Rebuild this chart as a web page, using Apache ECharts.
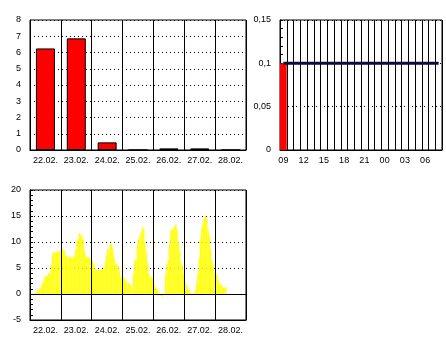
<!DOCTYPE html>
<html>
<head>
<meta charset="utf-8">
<script src="https://cdn.jsdelivr.net/npm/echarts@6/dist/echarts.min.js"></script>
<style>
html,body{margin:0;padding:0;background:#fff;}
#c{width:446px;height:340px;}
</style>
</head>
<body>
<div id="c"></div>
<script>
// ---- data ----
const days = ['22.02.', '23.02.', '24.02.', '25.02.', '26.02.', '27.02.', '28.02.'];
const dailyPrecip = [6.25, 6.87, 0.47, 0, 0.1, 0.1, 0];

const hours = ['09','10','11','12','13','14','15','16','17','18','19','20','21','22','23','00','01','02','03','04','05','06','07','08'];
const hourlyPrecip = [0.1, 0, 0, 0, 0, 0, 0, 0, 0, 0, 0, 0, 0, 0, 0, 0, 0, 0, 0, 0, 0, 0, 0, 0];
const cumulPrecip = [0.1, 0.1, 0.1, 0.1, 0.1, 0.1, 0.1, 0.1, 0.1, 0.1, 0.1, 0.1, 0.1, 0.1, 0.1, 0.1, 0.1, 0.1, 0.1, 0.1, 0.1, 0.1, 0.1, 0.1];

const temp22 = [0, 0, -0.3, -0.2, 0.2, 0.5, 0.7, 1.0, 1.3, 2.0, 2.5, 3.3, 3.5, 3.5, 4.0, 3.9, 5.5, 7.8, 7.9, 8.0, 8.1, 8.2, 8.2, 8.5];
const temp23 = [8.5, 8.5, 8.5, 7.6, 7.3, 7.0, 7.1, 7.3, 6.9, 7.0, 7.4, 8.5, 10.3, 10.5, 11.7, 11.5, 11.1, 10.5, 8.2, 7.2, 7.1, 7.1, 7.0, 6.5];
const temp24 = [6.4, 5.8, 5.0, 4.6, 4.6, 4.6, 4.6, 4.6, 4.6, 5.2, 6.0, 7.5, 8.8, 8.4, 9.7, 9.6, 8.7, 7.0, 5.9, 5.7, 5.5, 4.5, 3.3, 3.2];
const temp25 = [3.2, 3.0, 2.8, 2.2, 2.1, 2.0, 1.8, 0.8, 3.8, 6.5, 6.6, 9.5, 10.5, 11.3, 11.9, 12.9, 12.5, 9.8, 8.0, 6.0, 4.0, 3.2, 3.2, 3.0];
const temp26 = [1.7, 1.3, 1.2, 0.6, 0.1, -0.3, -0.4, -0.5, 0, 3.8, 5.5, 6.5, 9.6, 12.2, 12.4, 12.6, 13.0, 13.4, 12.3, 10.0, 8.2, 6.0, 5.5, 3.8];
const temp27 = [2.2, 1.8, 1.5, 0.8, 0.3, 0, 0, 0, 0.7, 2.0, 4.0, 6.8, 10.5, 12.7, 13.6, 14.5, 15.1, 14.6, 12.5, 11.3, 8.7, 6.5, 5.5, 4.0];
const temp28 = [4.0, 3.5, 2.7, 2.0, 1.8, 1.5, 1.2, 1.2, 1.4];

const tempTicks = [-5, 0, 5, 10, 15, 20];

// ---- build ----
const tempAll = [].concat(temp22, temp23, temp24, temp25, temp26, temp27, temp28);
const hourCats = [];
days.forEach(d => { for (let h = 0; h < 24; h++) hourCats.push(d + ' ' + h); });

const FONT = 'Liberation Sans';
const lbl = {color: '#000', fontSize: 9, fontFamily: FONT};
const black = {color: '#000', width: 1};
const dotted = {color: '#000', width: 1, type: [1, 3]};

const option = {
  animation: false,
  backgroundColor: '#fff',
  grid: [
    {left: 30, top: 20, width: 216, height: 130, show: true, borderColor: '#000', borderWidth: 1, backgroundColor: 'transparent'},
    {left: 280, top: 20, width: 162, height: 130, show: true, borderColor: '#000', borderWidth: 1, backgroundColor: 'transparent'},
    {left: 30, top: 190, width: 216, height: 130, show: true, borderColor: '#000', borderWidth: 1, backgroundColor: 'transparent'}
  ],
  xAxis: [
    {gridIndex: 0, type: 'category', data: days,
     axisLine: {lineStyle: black}, axisTick: {length: 5, interval: 0, lineStyle: black},
     axisLabel: Object.assign({margin: 6, interval: 0, hideOverlap: false}, lbl),
     splitLine: {show: true, interval: 0, lineStyle: black}},
    {gridIndex: 1, type: 'category', data: hours,
     axisLine: {lineStyle: black}, axisTick: {length: 5, interval: 0, lineStyle: black},
     axisLabel: Object.assign({margin: 6, interval: 2}, lbl),
     splitLine: {show: true, interval: 0, lineStyle: black}},
    {gridIndex: 2, type: 'category', data: days, z: 5,
     axisLine: {onZero: false, lineStyle: black}, axisTick: {length: 5, interval: 0, lineStyle: black},
     axisLabel: Object.assign({margin: 6, interval: 0, hideOverlap: false}, lbl),
     splitLine: {show: true, interval: 0, lineStyle: black}},
    {gridIndex: 2, type: 'category', data: hourCats, show: false}
  ],
  yAxis: [
    {gridIndex: 0, type: 'value', min: 0, max: 8, interval: 1,
     axisLine: {show: true, lineStyle: black}, axisTick: {show: false},
     axisLabel: Object.assign({margin: 9}, lbl),
     splitLine: {show: true, lineStyle: dotted}},
    {gridIndex: 1, type: 'value', min: 0, max: 0.15, interval: 0.05,
     axisLine: {show: true, lineStyle: black},
     axisTick: {show: true, inside: true, length: 3, lineStyle: black},
     minorTick: {show: true, splitNumber: 5, length: 3, lineStyle: black},
     axisLabel: Object.assign({margin: 9, formatter: v => String(+v.toFixed(4)).replace('.', ',')}, lbl),
     splitLine: {show: true, lineStyle: dotted}},
    {gridIndex: 2, type: 'value', min: tempTicks[0], max: tempTicks[tempTicks.length - 1], interval: 5,
     axisLine: {show: true, lineStyle: black},
     axisTick: {show: true, inside: true, length: 3, lineStyle: black},
     minorTick: {show: true, splitNumber: 5, length: 3, lineStyle: black},
     axisLabel: Object.assign({margin: 9}, lbl),
     splitLine: {show: true, lineStyle: dotted}}
  ],
  series: [
    {type: 'bar', xAxisIndex: 0, yAxisIndex: 0, data: dailyPrecip, barWidth: 19,
     itemStyle: {color: '#ff0000', borderColor: '#000', borderWidth: 1}},
    {type: 'bar', xAxisIndex: 1, yAxisIndex: 1, data: hourlyPrecip, barWidth: '100%',
     itemStyle: {color: '#ff0000'}},
    {type: 'line', xAxisIndex: 1, yAxisIndex: 1, data: cumulPrecip, symbol: 'none', z: 6,
     lineStyle: {color: '#0b0b3a', width: 3}},
    {type: 'bar', xAxisIndex: 3, yAxisIndex: 2, data: tempAll, barCategoryGap: '0%', barWidth: '100%',
     itemStyle: {color: '#ffff00', borderColor: '#ffff00', borderWidth: 0.4},
     markLine: {silent: true, symbol: ['none', 'none'], label: {show: false},
       lineStyle: {color: '#000', type: 'solid', width: 1}, data: [{yAxis: 0}]}}
  ]
};

const chart = echarts.init(document.getElementById('c'), null, {renderer: 'canvas'});
chart.setOption(option);
</script>
</body>
</html>
